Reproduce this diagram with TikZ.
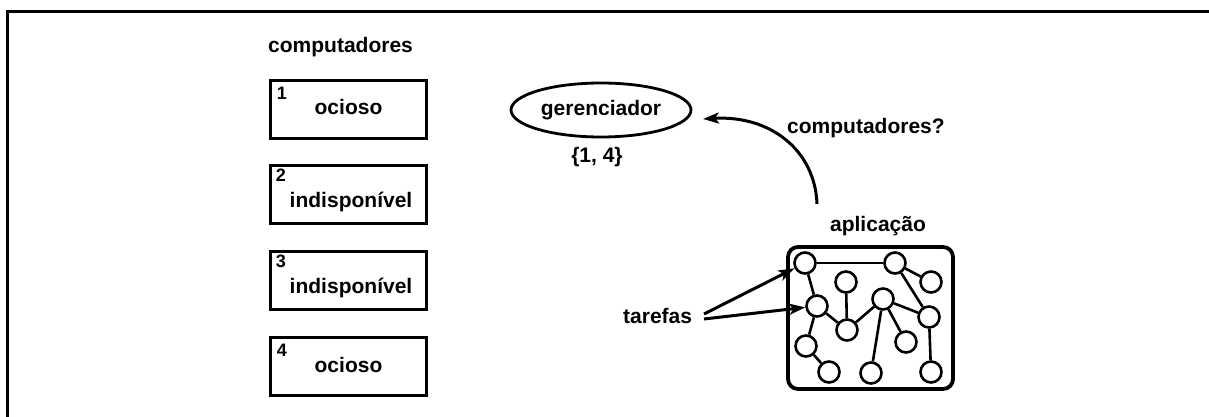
\documentclass[tikz,border=0pt]{standalone}
\usepackage{fontspec}
\setmainfont{Liberation Sans}
\usetikzlibrary{shapes.geometric,arrows.meta}
\begin{document}
\begin{tikzpicture}[x=1pt,y=-1pt,
  lbl/.style={font=\fontsize{21}{24}\selectfont\bfseries, inner sep=0},
  num/.style={font=\fontsize{18}{20}\selectfont\bfseries, inner sep=0, anchor=north west},
  compbox/.style={draw, line width=3.5pt, minimum width=156, minimum height=58, inner sep=0},
  task/.style={circle, draw, line width=2.6pt, minimum size=21, inner sep=0},
  link/.style={line width=2.6pt},
  bigarrow/.style={line width=3pt, -{Stealth[length=16pt,width=11pt,inset=4pt]}}]
\useasboundingbox (0,0) rectangle (1209,417);
% frame
\draw[line width=3pt] (7,417) -- (7,12) -- (1209,12);
% title
\node[lbl, anchor=base west] (title) at (268,53) {computadores};
% computer boxes
\node[compbox] (c1) at (348.5,109.5) {};
\node[compbox] (c2) at (348.5,194.5) {};
\node[compbox] (c3) at (348.5,280.5) {};
\node[compbox] (c4) at (348.5,366.5) {};
\node[num] (n1) at ([xshift=8pt,yshift=-8pt]c1.north west) {1};
\node[num] (n2) at ([xshift=7pt,yshift=-5pt]c2.north west) {2};
\node[num] (n3) at ([xshift=7pt,yshift=-5pt]c3.north west) {3};
\node[num] (n4) at ([xshift=8pt,yshift=-8pt]c4.north west) {4};
\node[lbl, anchor=base] (l1) at (348.5,115) {ocioso};
\node[lbl, anchor=base] (l2) at (351,207) {indispon\'ivel};
\node[lbl, anchor=base] (l3) at (351,293) {indispon\'ivel};
\node[lbl, anchor=base] (l4) at (348.5,372) {ocioso};
% manager
\node[ellipse, draw, line width=2.8pt, minimum width=180, minimum height=54, inner sep=0, font=\fontsize{21}{24}\selectfont\bfseries] (ger) at (601,110) {gerenciador};
\node[lbl, anchor=base] (set) at (597,162) {\{1, 4\}};
% application
\node[lbl, anchor=base] (aplab) at (878,231) {aplica\c{c}\~ao};
\node[draw, line width=3.8pt, rounded corners=10pt, minimum width=165, minimum height=142, inner sep=0] (app) at (870.5,318) {};
\node[task] (A) at (805,263) {};
\node[task] (B) at (895,263) {};
\node[task] (C) at (931,282) {};
\node[task] (D) at (846,282) {};
\node[task] (E) at (817,306) {};
\node[task] (F) at (883,299) {};
\node[task] (G) at (929,317) {};
\node[task] (H) at (847,330) {};
\node[task] (I) at (906,342) {};
\node[task] (J) at (806,346) {};
\node[task] (K) at (829,372) {};
\node[task] (L) at (871,373) {};
\node[task] (M) at (931,372) {};
\draw[link] (A) -- (B);
\draw[link] (A) -- (E);
\draw[link] (B) -- (C);
\draw[link] (B) -- (G);
\draw[link] (D) -- (H);
\draw[link] (E) -- (H);
\draw[link] (H) -- (F);
\draw[link] (F) -- (G);
\draw[link] (F) -- (I);
\draw[link] (F) -- (L);
\draw[link] (E) -- (J);
\draw[link] (J) -- (K);
\draw[link] (G) -- (M);
% tasks label
\node[lbl, anchor=base west] (taref) at (623,323) {tarefas};
\coordinate (t1) at (704,314);
\coordinate (t2) at (704,319);
\draw[bigarrow] (t1) -- (A);
\draw[bigarrow] (t2) -- (E);
% query
\node[lbl, anchor=base west] (query) at (787,133) {computadores?};
\coordinate (qs) at (817,204);
\coordinate (qe) at (703,119);
\draw[bigarrow] (qs) .. controls (815,150) and (770,115) .. (qe);
\end{tikzpicture}
\end{document}
